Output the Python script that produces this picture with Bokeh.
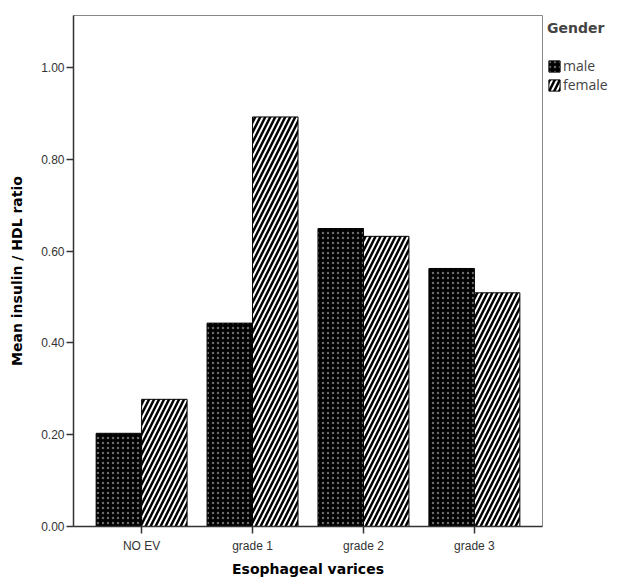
from bokeh.plotting import figure
from bokeh.models import ColumnDataSource, Range1d, FixedTicker, Legend, LegendItem, NumeralTickFormatter
from bokeh.transform import dodge
from bokeh.embed import file_html
from bokeh.resources import INLINE

categories = ["NO EV", "grade 1", "grade 2", "grade 3"]
male = [0.203, 0.443, 0.649, 0.562]
female = [0.277, 0.892, 0.632, 0.509]
y_ticks = [0.0, 0.2, 0.4, 0.6, 0.8, 1.0]

src = ColumnDataSource(dict(cat=categories, male=male, female=female))

FONT = "Liberation Sans"
BOLD = "DejaVu Sans"

p = figure(frame_width=469, frame_height=511, x_range=categories, y_range=Range1d(0, 1.113),
           output_backend="svg", toolbar_location=None,
           min_border_left=73, min_border_top=15, min_border_right=0, min_border_bottom=0)
p.x_range.range_padding = 0.057
p.xgrid.visible = False
p.ygrid.visible = False
p.outline_line_color = "#888888"
p.outline_line_width = 1
p.background_fill_color = "white"

bw = 0.41
r_m = p.vbar(x=dodge("cat", -bw / 2, range=p.x_range), top="male", width=bw, source=src,
             fill_color="black", line_color="black", line_width=1,
             hatch_pattern=".", hatch_color="#6a6a6a", hatch_scale=5, hatch_weight=1)
r_f = p.vbar(x=dodge("cat", bw / 2, range=p.x_range), top="female", width=bw, source=src,
             fill_color="white", line_color="black", line_width=1,
             hatch_pattern="/", hatch_color="black", hatch_scale=10, hatch_weight=2.5)

for ax in (p.xaxis[0], p.yaxis[0]):
    ax.axis_line_color = "#333333"
    ax.axis_line_width = 1.5
    ax.major_tick_line_color = "#333333"
    ax.major_tick_line_width = 1.5
    ax.major_tick_in = 0
    ax.major_tick_out = 7
    ax.minor_tick_line_color = None
    ax.major_label_text_font = FONT
    ax.major_label_text_font_size = "12px"
    ax.major_label_text_color = "#333333"
    ax.axis_label_text_font = BOLD
    ax.axis_label_text_font_style = "bold"
    ax.axis_label_text_font_size = "14px"
    ax.axis_label_text_color = "black"

p.yaxis.ticker = FixedTicker(ticks=y_ticks)
p.yaxis.formatter = NumeralTickFormatter(format="0.00")
p.yaxis.axis_label = "Mean insulin / HDL ratio"
p.yaxis.axis_label_standoff = 13
p.yaxis.major_label_standoff = 2
p.xaxis.axis_label = "Esophageal varices"
p.xaxis.major_label_standoff = 5
p.xaxis.axis_label_standoff = 5

legend = Legend(items=[LegendItem(label="male", renderers=[r_m]),
                       LegendItem(label="female", renderers=[r_f])],
                location="top_left", title="Gender")
legend.title_text_font = BOLD
legend.title_text_font_style = "bold"
legend.title_text_font_size = "14px"
legend.title_standoff = 20
legend.label_text_font = "Open Sans"
legend.label_text_font_size = "14px"
legend.glyph_width = 14
legend.glyph_height = 14
legend.label_standoff = 2
legend.label_height = 14
legend.spacing = 0
legend.padding = 0
legend.margin = 5
legend.border_line_color = None
legend.background_fill_alpha = 0
p.add_layout(legend, "right")

open("out.html", "w").write(file_html(p, INLINE))
